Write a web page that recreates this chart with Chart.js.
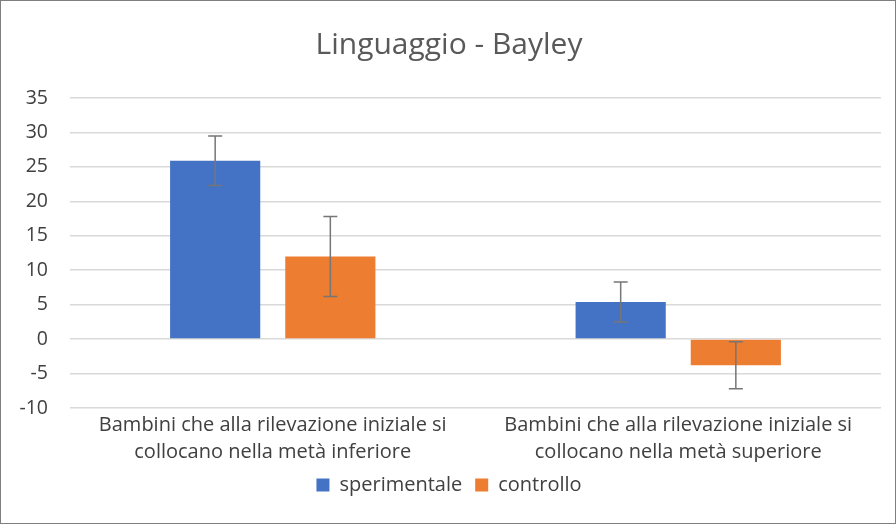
<!DOCTYPE html>
<html>
<head>
<meta charset="utf-8">
<script src="https://cdn.jsdelivr.net/npm/chart.js@4.4.1/dist/chart.umd.min.js"></script>
<style>
  html, body { margin: 0; padding: 0; background: #fff; }
  #wrap { position: absolute; left: 0; top: 0; width: 894px; height: 522px; border: 1px solid #7f7f7f; }
</style>
</head>
<body>
<div id="wrap"><canvas id="myChart" width="894" height="522"></canvas></div>
<script>
// Data
let categories = [
    ['Bambini che alla rilevazione iniziale si', 'collocano nella metà inferiore'],
    ['Bambini che alla rilevazione iniziale si', 'collocano nella metà superiore']
];
let sperimentale = [25.9, 5.4];
let sperimentaleErr = [3.6, 2.9];
let controllo = [12.0, -3.8];
let controlloErr = [5.8, 3.4];

// draw error bars on top of the bars
let errorBars = {
    id: 'errorBars',
    afterDatasetsDraw(chart) {
        let ctx = chart.ctx;
        let y = chart.scales.y;
        chart.data.datasets.forEach((ds, i) => {
            let meta = chart.getDatasetMeta(i);
            meta.data.forEach((bar, j) => {
                let v = ds.data[j], e = ds.errors[j];
                let top = y.getPixelForValue(v + e);
                let bot = y.getPixelForValue(v - e);
                ctx.save();
                ctx.strokeStyle = '#767676';
                ctx.lineWidth = 1.5;
                ctx.beginPath();
                ctx.moveTo(bar.x, top); ctx.lineTo(bar.x, bot);
                ctx.moveTo(bar.x - 7, top); ctx.lineTo(bar.x + 7, top);
                ctx.moveTo(bar.x - 7, bot); ctx.lineTo(bar.x + 7, bot);
                ctx.stroke();
                ctx.restore();
            });
        });
    }
};

let myChart = new Chart(document.getElementById('myChart').getContext('2d'), {
    type: 'bar',
    data: {
        labels: categories,
        datasets: [
            {
                label: 'sperimentale',
                data: sperimentale,
                errors: sperimentaleErr,
                backgroundColor: '#4472c4'
            },
            {
                label: 'controllo',
                data: controllo,
                errors: controlloErr,
                backgroundColor: '#ed7d31'
            }
        ]
    },
    options: {
        responsive: false,
        animation: false,
        layout: { padding: { left: 16, right: 14, top: 0, bottom: 18 } },
        datasets: {
            bar: { categoryPercentage: 0.568, barPercentage: 0.783 }
        },
        plugins: {
            title: {
                display: true,
                text: 'Linguaggio - Bayley',
                color: '#595959',
                font: { family: 'Open Sans', size: 30, weight: 'normal' },
                padding: { top: 26, bottom: 35 }
            },
            legend: {
                position: 'bottom',
                labels: {
                    color: '#404040',
                    font: { family: 'Open Sans', size: 20 },
                    boxWidth: 13,
                    boxHeight: 13,
                    padding: 13
                }
            },
            tooltip: { enabled: false }
        },
        scales: {
            x: {
                grid: { display: false },
                border: { display: false },
                ticks: {
                    color: '#404040',
                    font: { family: 'Open Sans', size: 20, lineHeight: 1.35 },
                    maxRotation: 0,
                    padding: -4
                }
            },
            y: {
                min: -10,
                max: 35,
                afterFit(scale) { scale.width = 53; },
                ticks: {
                    stepSize: 5,
                    color: '#404040',
                    font: { family: 'Open Sans', size: 19.5 },
                    padding: 22
                },
                grid: { color: '#d9d9d9', lineWidth: 1.5, drawTicks: false },
                border: { display: false }
            }
        }
    },
    plugins: [errorBars]
});
</script>
</body>
</html>
